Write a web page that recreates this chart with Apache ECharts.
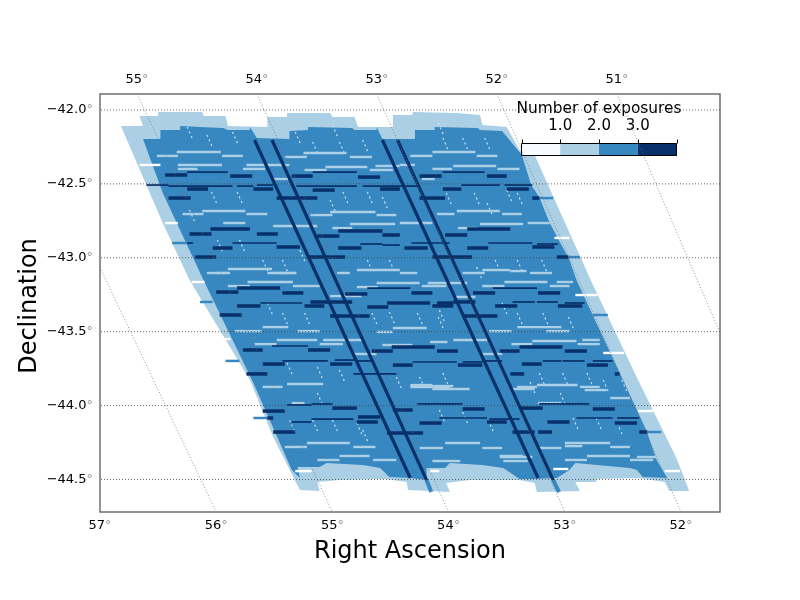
<!DOCTYPE html>
<html><head><meta charset="utf-8">
<style>html,body{margin:0;padding:0;background:#fff}#c{width:800px;height:600px}</style>
<script src="https://cdn.jsdelivr.net/npm/echarts@6/dist/echarts.min.js"></script>
</head><body><div id="c"></div>
<script>
// tick labels
const raBottom=[57,56,55,54,53,52];
const raTop=[55,54,53,52,51];
const decTicks=[-42,-42.5,-43,-43.5,-44,-44.5];
const exposureTicks=[0,1,2,3,4];
const exposureLabels=[1,2,3];
const exposureBins=[[0,1],[1,2],[2,3],[3,4]];
// meridians: [u at north edge, u at south edge]
const meridians=[[57.71,56],[56.68,55],[55.65,54],[54.62,53],[53.585,52],[52.55,51]];
// one-exposure footprint outline [u,dec]
const coverOne=[[56.82,-42.109],[56.63,-42.109],[56.66,-42.041],[56.50,-42.041],[56.50,-42.014],[56.12,-42.014],[56.11,-42.041],[55.92,-42.041],[55.90,-42.109],[55.56,-42.115],[55.56,-42.048],[55.39,-42.048],[55.39,-42.021],[55.02,-42.021],[55.00,-42.048],[54.81,-42.048],[54.78,-42.115],[54.48,-42.115],[54.48,-42.034],[54.31,-42.034],[54.31,-42.014],[53.93,-42.021],[53.73,-42.034],[53.71,-42.102],[53.50,-42.115],[53.39,-42.271],[53.26,-42.305],[52.77,-43.164],[52.37,-43.827],[52.04,-44.355],[51.93,-44.578],[52.10,-44.578],[52.14,-44.517],[52.37,-44.490],[52.73,-44.497],[52.73,-44.517],[52.91,-44.517],[52.87,-44.578],[53.24,-44.585],[53.26,-44.524],[53.39,-44.504],[53.82,-44.504],[54.02,-44.524],[53.99,-44.585],[54.35,-44.571],[54.36,-44.517],[54.55,-44.497],[54.94,-44.504],[55.13,-44.517],[55.11,-44.578],[55.28,-44.571],[55.51,-44.213],[55.71,-43.827],[56.23,-43.150],[56.46,-42.765]];
// two-exposure footprint outline [u,dec]
const coverTwo=[[56.63,-42.196],[56.48,-42.196],[56.48,-42.136],[56.31,-42.136],[56.31,-42.109],[56.14,-42.115],[55.94,-42.122],[55.90,-42.136],[55.71,-42.136],[55.71,-42.115],[55.65,-42.190],[55.37,-42.196],[55.37,-42.142],[55.21,-42.136],[55.21,-42.115],[54.83,-42.122],[54.81,-42.136],[54.62,-42.136],[54.62,-42.115],[54.57,-42.196],[54.29,-42.196],[54.29,-42.136],[54.12,-42.136],[54.12,-42.115],[53.75,-42.122],[53.73,-42.136],[53.54,-42.142],[53.37,-42.305],[53.29,-42.508],[53.22,-42.589],[53.13,-42.765],[52.96,-43.015],[52.90,-43.150],[52.50,-43.827],[52.30,-44.165],[52.21,-44.368],[52.12,-44.490],[52.33,-44.483],[52.38,-44.436],[52.44,-44.422],[52.91,-44.389],[52.96,-44.436],[53.07,-44.490],[53.28,-44.497],[53.39,-44.497],[53.53,-44.422],[53.71,-44.402],[53.99,-44.389],[54.03,-44.422],[54.19,-44.422],[54.19,-44.504],[54.33,-44.490],[54.51,-44.483],[54.59,-44.422],[54.74,-44.402],[55.05,-44.389],[55.11,-44.415],[55.30,-44.415],[55.28,-44.490],[55.35,-44.436],[55.68,-43.847],[56.11,-43.150],[56.46,-42.562]];
// overlap strips running along the scan: [u1,dec1,u2,dec2]
const stripsDark=[[55.67,-42.203,54.33,-44.490],[55.52,-42.203,54.19,-44.504],[54.57,-42.203,53.23,-44.490],[54.44,-42.203,53.10,-44.504]];
const stripsMid=[[54.19,-44.504,54.15,-44.585],[53.10,-44.504,53.05,-44.585]];
// rows: [dec,u1,u2]
const rowsThree=[[-42.44,56.44,56.25],[-42.447,55.88,55.69],[-42.447,55.35,55.17],[-42.454,54.78,54.59],[-42.447,54.25,54.06],[-42.447,53.67,53.50],[-42.535,56.25,56.07],[-42.535,55.68,55.51],[-42.542,55.17,54.98],[-42.535,54.59,54.42],[-42.535,54.05,53.89],[-42.535,53.50,53.31],[-42.596,56.41,56.22],[-42.596,55.48,55.13],[-42.596,54.25,54.03],[-42.596,53.28,53.22],[-42.805,56.05,55.71],[-42.819,54.95,54.57],[-42.805,53.84,53.47],[-42.839,56.23,56.04],[-42.839,55.65,55.47],[-42.853,55.13,54.94],[-42.846,54.57,54.42],[-42.846,54.03,53.84],[-42.934,56.03,55.86],[-42.927,55.48,55.28],[-42.934,54.95,54.75],[-42.934,54.38,54.18],[-42.934,53.84,53.66],[-42.927,53.28,53.09],[-42.995,56.18,56.0],[-42.995,55.22,54.89],[-42.995,54.14,53.80],[-42.995,53.07,52.97],[-43.205,55.82,55.45],[-43.232,56.0,55.81],[-43.238,55.43,55.25],[-43.245,54.89,54.70],[-43.238,54.32,54.14],[-43.238,53.79,53.60],[-43.238,53.23,53.04],[-43.299,55.19,54.83],[-43.306,54.53,54.16],[-43.306,54.10,53.96],[-43.299,53.96,53.77],[-43.326,55.82,55.62],[-43.326,55.24,55.07],[-43.333,54.70,54.52],[-43.326,54.14,53.96],[-43.326,53.60,53.41],[-43.326,53.06,52.85],[-43.387,55.97,55.78],[-43.394,55.02,54.68],[-43.394,53.88,53.58],[-43.624,55.77,55.60],[-43.624,55.21,55.02],[-43.631,54.66,54.48],[-43.631,54.10,53.92],[-43.631,53.56,53.39],[-43.631,53.0,52.81],[-43.604,54.49,54.12],[-43.604,53.39,53.02],[-43.719,55.60,55.41],[-43.719,55.02,54.83],[-43.726,54.48,54.31],[-43.726,53.92,53.71],[-43.719,53.37,53.20],[-43.726,52.81,52.63],[-43.786,55.74,55.56],[-43.786,53.47,53.35],[-43.786,52.57,52.53],[-44.017,55.0,54.79],[-44.037,55.60,55.41],[-44.023,53.88,53.69],[-44.023,52.76,52.57],[-44.017,53.39,53.19],[-44.030,54.48,54.31],[-44.111,54.79,54.61],[-44.118,54.25,54.06],[-44.111,53.67,53.50],[-44.111,53.15,52.96],[-44.118,52.57,52.38],[-44.179,55.51,55.32],[-44.186,54.53,54.22],[-44.179,53.45,53.26],[-44.179,53.23,53.11],[-44.179,52.36,52.29],[-44.077,54.78,54.59],[-44.084,55.56,55.51]];
const rowsThreeThin=[[-42.420,56.25,55.90],[-42.420,55.17,54.79],[-42.420,54.05,53.69],[-42.508,56.60,56.41],[-42.515,56.41,55.86],[-42.515,55.82,55.68],[-42.508,55.65,55.51],[-42.515,55.31,54.79],[-42.515,54.74,54.27],[-42.508,53.89,53.56],[-42.508,53.52,53.28],[-42.900,55.86,55.48],[-42.900,56.25,56.20],[-42.907,54.76,54.57],[-42.914,54.57,54.42],[-42.900,54.32,53.99],[-42.900,53.66,53.28],[-42.907,53.24,53.06],[-43.205,54.70,54.33],[-43.205,53.62,53.24],[-43.306,55.62,55.26],[-43.299,53.45,53.26],[-43.299,53.24,53.06],[-43.306,53.0,52.83],[-43.597,55.52,55.21],[-43.698,55.43,55.04],[-43.692,54.98,54.79],[-43.698,54.79,54.65],[-43.705,54.31,53.93],[-43.705,53.88,53.71],[-43.698,53.71,53.54],[-43.698,53.19,53.03],[-43.698,53.02,52.83],[-43.698,52.76,52.59],[-43.786,54.82,54.45],[-43.989,55.18,55.0],[-43.996,55.39,55.18],[-43.989,54.27,53.88],[-43.989,53.22,52.79],[-44.091,55.18,54.82],[-44.084,54.08,53.67],[-44.091,53.65,53.39],[-44.084,52.90,52.59],[-44.084,52.55,52.36],[-44.111,55.35,55.18]];
const rowsTwo=[[-42.596,53.22,53.10],[-43.299,56.14,56.03],[-43.698,55.92,55.80],[-42.900,56.38,56.25],[-44.084,55.68,55.56],[-44.179,52.29,52.17],[-43.387,52.76,52.63],[-42.995,52.97,52.87]];
const rowsOne=[[-42.284,56.34,55.96],[-42.311,56.51,56.33],[-42.311,55.95,55.77],[-42.372,56.33,55.95],[-42.399,55.77,55.58],[-42.372,55.74,55.37],[-42.399,56.33,56.16],[-42.291,55.25,54.88],[-42.318,55.41,55.22],[-42.318,54.85,54.66],[-42.386,55.06,54.70],[-42.406,55.24,55.05],[-42.406,54.68,54.48],[-42.379,54.63,54.42],[-42.467,55.51,55.38],[-42.684,56.12,55.75],[-42.704,56.29,56.11],[-42.704,55.74,55.56],[-42.765,55.94,55.75],[-42.785,55.51,55.13],[-42.690,55.02,54.63],[-42.711,55.19,55.0],[-42.711,54.62,54.45],[-42.772,54.85,54.46],[-42.799,55.0,54.83],[-43.076,55.90,55.52],[-43.103,56.0,55.90],[-43.103,55.51,55.31],[-43.083,54.79,54.42],[-43.103,54.96,54.85],[-42.284,54.14,53.77],[-42.311,54.33,54.14],[-42.311,53.76,53.58],[-42.379,53.96,53.59],[-42.372,54.42,54.29],[-42.399,53.58,53.39],[-42.399,54.14,53.97],[-42.467,54.23,54.12],[-42.684,53.93,53.56],[-42.704,53.54,53.37],[-42.704,54.10,53.95],[-42.765,53.32,53.13],[-42.799,53.92,53.75],[-42.772,53.73,53.36],[-42.765,54.42,54.14],[-43.090,53.47,53.33],[-43.083,53.71,53.47],[-43.103,54.42,54.27],[-43.103,55.56,55.32],[-43.103,56.08,55.88],[-43.164,55.73,55.34],[-43.191,55.90,55.71],[-43.191,55.34,55.11],[-43.171,54.62,54.25],[-43.198,54.79,54.61],[-43.191,54.23,54.02],[-43.171,54.18,53.84],[-43.259,55.02,54.75],[-43.469,55.60,55.38],[-43.496,55.84,55.61],[-43.496,55.30,55.11],[-43.475,54.48,54.19],[-43.502,54.62,54.48],[-43.556,55.48,55.13],[-43.584,55.67,55.48],[-43.556,55.08,54.74],[-43.584,55.11,54.91],[-43.590,54.57,54.31],[-43.651,54.81,54.62],[-43.854,55.39,55.08],[-43.874,55.60,55.43],[-43.874,54.33,53.99],[-43.103,53.88,53.69],[-43.103,53.30,53.11],[-43.164,53.52,53.15],[-43.191,53.71,53.52],[-43.191,53.13,52.96],[-43.164,53.07,52.93],[-43.265,53.95,53.77],[-43.469,53.41,53.03],[-43.496,53.65,53.46],[-43.496,53.16,52.96],[-43.563,53.28,52.90],[-43.584,53.46,53.28],[-43.556,53.96,53.67],[-43.570,54.16,54.01],[-43.584,52.89,52.70],[-43.556,52.85,52.70],[-43.651,53.71,53.54],[-43.861,53.24,52.89],[-43.874,52.87,52.70],[-43.868,54.16,53.96],[-43.874,53.41,53.24],[-43.861,54.33,54.14],[-43.888,54.14,53.82],[-43.888,53.45,53.26],[-43.895,52.83,52.64],[-43.949,52.61,52.44],[-43.983,53.23,53.03],[-43.983,55.35,55.24],[-44.253,55.22,54.85],[-44.280,55.41,55.22],[-44.280,54.82,54.63],[-44.341,54.94,54.68],[-44.368,55.13,54.94],[-44.368,54.65,54.45],[-44.253,54.03,53.73],[-44.287,54.25,54.05],[-44.287,53.71,53.54],[-44.375,54.14,53.90],[-44.341,53.56,53.36],[-44.253,53.0,52.61],[-44.274,53.0,52.85],[-44.280,52.61,52.44],[-44.341,52.81,52.44],[-44.368,53.0,52.81],[-44.368,52.44,52.24],[-44.348,52.38,52.21],[-44.287,53.23,53.03],[-44.348,53.56,53.28],[-44.375,53.53,53.32]];
const rowsNone=[[-42.372,56.66,56.48],[-42.765,56.44,56.33],[-43.164,56.21,56.10],[-43.550,56.0,55.88],[-43.956,55.75,55.64],[-44.341,55.52,55.45],[-44.443,55.32,55.18],[-44.443,54.16,54.08],[-44.429,53.10,52.97],[-44.443,52.14,52.01],[-44.037,52.37,52.24],[-43.644,52.67,52.49],[-43.252,52.91,52.72],[-42.866,53.09,52.96]];
// small gaps along the scan direction: start [u,dec]
const speckles=[[56.25,-42.115],[56.08,-42.169],[55.86,-42.149],[56.04,-42.555],[55.82,-42.555],[56.23,-42.677],[55.99,-42.880],[55.80,-42.880],[55.60,-43.015],[55.0,-42.102],[55.32,-42.149],[55.17,-42.217],[54.94,-42.217],[54.74,-42.203],[54.91,-42.555],[54.70,-42.555],[55.02,-42.609],[54.57,-42.589],[54.70,-43.015],[54.51,-43.015],[55.43,-43.015],[55.28,-42.948],[54.09,-42.088],[54.05,-42.190],[53.69,-42.190],[53.88,-42.190],[53.50,-42.542],[53.41,-42.562],[54.02,-42.562],[53.78,-42.562],[53.67,-42.630],[53.20,-43.015],[53.41,-43.015],[53.60,-43.015],[53.76,-43.063],[55.56,-43.306],[55.43,-43.374],[55.24,-43.374],[54.66,-43.374],[54.51,-43.367],[54.27,-43.374],[54.09,-43.401],[55.39,-43.712],[55.13,-43.739],[54.94,-43.759],[54.45,-43.807],[54.25,-43.807],[54.08,-43.354],[53.54,-43.306],[53.41,-43.374],[52.97,-43.401],[53.19,-43.374],[54.05,-43.780],[53.22,-43.780],[53.02,-43.780],[52.81,-43.780],[52.67,-43.827],[55.0,-44.098],[54.79,-44.118],[55.17,-44.098],[55.37,-44.098],[54.08,-44.030],[53.88,-44.044],[53.66,-44.098],[55.13,-43.915],[54.74,-44.165],[52.93,-44.084],[52.73,-44.084],[52.55,-44.118],[53.04,-43.915],[53.30,-43.841],[52.51,-43.827]];
const SLANT=[-0.05,-0.088];

const BLUES=['#f7fbff','#abd0e6','#3787c0','#08306b'];
function poly(pts,color,z){return {type:'custom',xAxisIndex:0,yAxisIndex:0,z,clip:true,silent:true,data:[[0]],
  renderItem:(p,api)=>({type:'polygon',shape:{points:pts.map(q=>api.coord(q))},style:{fill:color}})};}
function rows(data,color,w,z){return {type:'custom',xAxisIndex:0,yAxisIndex:0,z,clip:true,silent:true,data,
  renderItem:(p,api)=>{const a=api.coord([api.value(1),api.value(0)]),b=api.coord([api.value(2),api.value(0)]);
    return {type:'line',shape:{x1:a[0],y1:a[1],x2:b[0],y2:b[1]},style:{stroke:color,lineWidth:w,fill:null}};}};}
function strips(data,color,w,z){return {type:'custom',xAxisIndex:0,yAxisIndex:0,z,clip:true,silent:true,data,
  renderItem:(p,api)=>{const a=api.coord([api.value(0),api.value(1)]),b=api.coord([api.value(2),api.value(3)]);
    return {type:'line',shape:{x1:a[0],y1:a[1],x2:b[0],y2:b[1]},style:{stroke:color,lineWidth:w,fill:null}};}};}
function gaps(data,color,w,z){return {type:'custom',xAxisIndex:0,yAxisIndex:0,z,clip:true,silent:true,data,
  renderItem:(p,api)=>{const u=api.value(0),d=api.value(1),a=api.coord([u,d]),b=api.coord([u+SLANT[0],d+SLANT[1]]);
    return {type:'line',shape:{x1:a[0],y1:a[1],x2:b[0],y2:b[1]},style:{stroke:color,lineWidth:w,lineDash:[2,3],fill:null}};}};}
function gridLine(d,color,w){return {type:'line',xAxisIndex:0,yAxisIndex:0,z:8,data:d,symbol:'none',silent:true,animation:false,
  lineStyle:{color,width:w,type:[1,2]}};}
const UMIN=51.665,UMAX=57,DMIN=-44.72,DMAX=-41.892;
const rich={t:{fontFamily:'DejaVu Sans',fontSize:13,color:'#000'},d:{fontFamily:'DejaVu Sans',fontSize:13,color:'#999'}};
const series=[
  poly(coverOne,BLUES[1],1),poly(coverTwo,BLUES[2],2),
  strips(stripsMid,BLUES[2],4,3),
  gaps(speckles,'#cfe2f0',1.2,3),
  rows(rowsTwo,BLUES[2],2.5,3),
  rows(rowsOne,BLUES[1],2.4,3),
  rows(rowsNone,'#ffffff',2.4,3),
  rows(rowsThree,BLUES[3],3.5,4),
  rows(rowsThreeThin,BLUES[3],1.7,4),
  strips(stripsDark,BLUES[3],3.2,5),
  ...decTicks.map(d=>gridLine([[UMIN,d],[UMAX,d]],'#444',0.8)),
  ...meridians.map(m=>gridLine([[m[0],DMAX],[m[1],DMIN]],'#777',0.8)),
  {type:'custom',xAxisIndex:2,yAxisIndex:1,z:3,silent:true,data:exposureBins,
   renderItem:(p,api)=>{const a=api.coord([api.value(0),1]),b=api.coord([api.value(1),0]);
     return {type:'rect',shape:{x:a[0],y:a[1],width:b[0]-a[0],height:b[1]-a[1]},style:{fill:BLUES[p.dataIndex]}};}},
  {type:'custom',xAxisIndex:2,yAxisIndex:1,z:20,silent:true,clip:false,data:exposureTicks.map(v=>[v]),
   renderItem:(p,api)=>{const a=api.coord([api.value(0),1]);
     const x=Math.round(a[0])+0.5;
     return {type:'line',shape:{x1:x,y1:a[1],x2:x,y2:a[1]-4},style:{stroke:'#000',lineWidth:1,fill:null}};}}
];
const chart=echarts.init(document.getElementById('c'),null,{renderer:'canvas'});
chart.setOption({
  animation:false,backgroundColor:'#fff',
  grid:[{left:100,top:94,width:620,height:418,show:true,borderColor:'#707070',borderWidth:1.5,backgroundColor:'transparent',z:0,outerBoundsMode:'none'},
        {left:521.5,top:143.5,width:155,height:12,show:true,borderColor:'#000',borderWidth:1,backgroundColor:'transparent',z:12,outerBoundsMode:'none'}],
  xAxis:[
   {type:'value',gridIndex:0,min:UMIN,max:UMAX,inverse:true,position:'bottom',splitLine:{show:false},axisLine:{show:false},axisTick:{show:false},
    name:'Right Ascension',nameLocation:'middle',nameGap:28,nameMoveOverlap:false,nameTextStyle:{fontFamily:'DejaVu Sans',fontSize:24,color:'#000'},
    axisLabel:{customValues:raBottom,margin:7,formatter:v=>`{t|${v}}{d|°}`,rich}},
   {type:'value',gridIndex:0,min:50.142,max:55.308,inverse:true,position:'top',splitLine:{show:false},axisLine:{show:false},axisTick:{show:false},
    axisLabel:{customValues:raTop,margin:8,formatter:v=>`{t|${v}}{d|°}`,rich}},
   {type:'value',gridIndex:1,min:0,max:4,position:'top',splitLine:{show:false},axisLine:{show:false},axisTick:{show:false},
    name:'Number of exposures',nameLocation:'middle',nameGap:27,nameTextStyle:{fontFamily:'DejaVu Sans',fontSize:15.4,color:'#000'},
    axisLabel:{customValues:exposureLabels,margin:10,formatter:v=>v.toFixed(1),fontFamily:'DejaVu Sans',fontSize:15,color:'#000'}}
  ],
  yAxis:[
   {type:'value',gridIndex:0,min:DMIN,max:DMAX,splitLine:{show:false},axisLine:{show:false},axisTick:{show:false},
    name:'Declination',nameLocation:'middle',nameGap:58,nameMoveOverlap:false,nameTextStyle:{fontFamily:'DejaVu Sans',fontSize:24,color:'#000',padding:[0,6,0,0]},
    axisLabel:{customValues:decTicks,margin:7,formatter:v=>`{t|−${Math.abs(v).toFixed(1)}}{d|°}`,rich}},
   {type:'value',gridIndex:1,min:0,max:1,show:false}
  ],
  series
});
</script></body></html>
